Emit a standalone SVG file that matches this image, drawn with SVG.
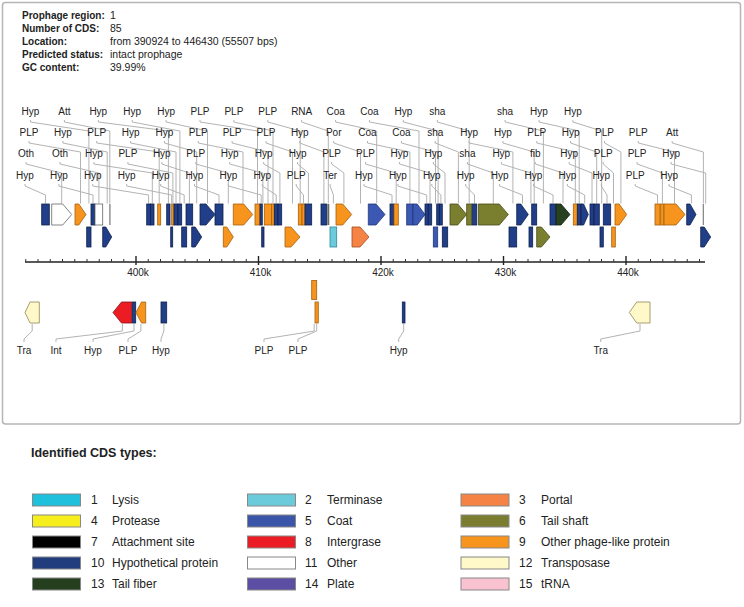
<svg xmlns="http://www.w3.org/2000/svg" width="744" height="607" viewBox="0 0 744 607">
<style>
text{font-family:"Liberation Sans",Arial,sans-serif;fill:#222}
.h{font-size:10.5px}
.hb{font-size:10px;font-weight:bold}
.t{font-size:10px;text-anchor:middle}
.ax{font-size:10px;text-anchor:middle}
.lg{font-size:12px}
.ln{fill:none;stroke:#b3b3b3;stroke-width:1}
.hyp{fill:#213f88;stroke:#0f214d;stroke-width:.8}
.coa{fill:#3b58b2;stroke:#22367a;stroke-width:.8}
.plp{fill:#f7941d;stroke:#a4600f;stroke-width:.8}
.oth{fill:#fff;stroke:#666;stroke-width:.8}
.sha{fill:#7a7f30;stroke:#474a18;stroke-width:.8}
.fib{fill:#27401f;stroke:#13230e;stroke-width:.8}
.ter{fill:#6ccbdb;stroke:#2f8898;stroke-width:.8}
.por{fill:#f58345;stroke:#a24a1f;stroke-width:.8}
.att{fill:#8a8a8a}
.rna{fill:#6a6a6a}
.tra{fill:#fff8c8;stroke:#8f8656;stroke-width:.8}
.int{fill:#ec1c24;stroke:#8a1015;stroke-width:.8}
.sw{stroke:#888;stroke-width:1}
</style>
<rect x="2.5" y="2.5" width="738" height="421.5" rx="3" fill="#fff" stroke="#b5b5b5" stroke-width="1.5"/>
<g id="header">
<text class="hb" x="22" y="18.8">Prophage region:</text><text class="h" x="110" y="18.8">1</text>
<text class="hb" x="22" y="31.8">Number of CDS:</text><text class="h" x="110" y="31.8">85</text>
<text class="hb" x="22" y="44.8">Location:</text><text class="h" x="110" y="44.8">from 390924 to 446430 (55507 bps)</text>
<text class="hb" x="22" y="57.8">Predicted status:</text><text class="h" x="110" y="57.8">intact prophage</text>
<text class="hb" x="22" y="70.8">GC content:</text><text class="h" x="110" y="70.8">39.99%</text>
</g>
<g id="axis">
<line x1="25" y1="262" x2="705" y2="262" stroke="#222" stroke-width="1.6"/>
<path fill="none" stroke="#333" stroke-width="1" d="M25.75 259V262M38 259V262M50.25 259V262M62.5 259V262M74.75 259V262M87 259V262M99.25 259V262M111.5 259V262M123.75 259V262M148.25 259V262M160.5 259V262M172.75 259V262M185 259V262M197.25 259V262M209.5 259V262M221.75 259V262M234 259V262M246.25 259V262M270.75 259V262M283 259V262M295.25 259V262M307.5 259V262M319.75 259V262M332 259V262M344.25 259V262M356.5 259V262M368.75 259V262M393.25 259V262M405.5 259V262M417.75 259V262M430 259V262M442.25 259V262M454.5 259V262M466.75 259V262M479 259V262M491.25 259V262M515.75 259V262M528 259V262M540.25 259V262M552.5 259V262M564.75 259V262M577 259V262M589.25 259V262M601.5 259V262M613.75 259V262M638.25 259V262M650.5 259V262M662.75 259V262M675 259V262M687.25 259V262M699.5 259V262"/>
<path fill="none" stroke="#222" stroke-width="1.4" d="M136 256V265M258.5 256V265M381 256V265M503.5 256V265M626 256V265"/>
<text class="ax" x="138" y="276">400k</text>
<text class="ax" x="260.5" y="276">410k</text>
<text class="ax" x="383" y="276">420k</text>
<text class="ax" x="505.5" y="276">430k</text>
<text class="ax" x="628" y="276">440k</text>
</g>
<g id="connectors">
<path class="ln" d="M25 184V186L45.5 195V203.5"/>
<path class="ln" d="M26 162V164L61.7 173V203.5"/>
<path class="ln" d="M29 141V143L80.5 152V203.5"/>
<path class="ln" d="M30.5 120V122L88.9 131V203.5"/>
<path class="ln" d="M58.9 184V186L93 195V203.5"/>
<path class="ln" d="M60 162V164L98.9 173V203.5"/>
<path class="ln" d="M62.9 141V143L107.2 152V203.5"/>
<path class="ln" d="M64.4 120V122L109.8 131V203.5"/>
<path class="ln" d="M92.8 184V186L148.6 195V203.5"/>
<path class="ln" d="M93.9 162V164L152.3 173V203.5"/>
<path class="ln" d="M96.7 141V143L159.2 152V203.5"/>
<path class="ln" d="M98.3 120V122L168.4 131V203.5"/>
<path class="ln" d="M126.7 184V186L171.7 195V203.5"/>
<path class="ln" d="M127.9 162V164L172.9 173V203.5"/>
<path class="ln" d="M130.6 141V143L176 152V203.5"/>
<path class="ln" d="M132.2 120V122L179.9 131V203.5"/>
<path class="ln" d="M160.6 184V186L184.2 195V203.5"/>
<path class="ln" d="M161.8 162V164L189.4 173V203.5"/>
<path class="ln" d="M164.4 141V143L196.7 152V203.5"/>
<path class="ln" d="M166.1 120V122L207.5 131V203.5"/>
<path class="ln" d="M194.5 184V186L219 195V203.5"/>
<path class="ln" d="M195.8 162V164L228.3 173V203.5"/>
<path class="ln" d="M198.3 141V143L243 152V203.5"/>
<path class="ln" d="M200 120V122L257.5 131V203.5"/>
<path class="ln" d="M228.4 184V186L261.2 195V203.5"/>
<path class="ln" d="M229.7 162V164L262.9 173V203.5"/>
<path class="ln" d="M232.1 141V143L268 152V203.5"/>
<path class="ln" d="M233.9 120V122L273 131V203.5"/>
<path class="ln" d="M262.3 184V186L276.2 195V203.5"/>
<path class="ln" d="M263.7 162V164L279.9 173V203.5"/>
<path class="ln" d="M266 141V143L292.5 152V203.5"/>
<path class="ln" d="M267.8 120V122L300.2 131V203.5"/>
<path class="ln" d="M296.2 184V186L303.5 195V203.5"/>
<path class="ln" d="M297.6 162V164L308.4 173V203.5"/>
<path class="ln" d="M299.8 141V143L323.9 152V203.5"/>
<path class="ln" d="M301.7 120V122L328.3 131V203.5"/>
<path class="ln" d="M330.1 184V186L333.4 195V203.5"/>
<path class="ln" d="M331.6 162V164L343.9 173V203.5"/>
<path class="ln" d="M333.7 141V143L360.5 152V203.5"/>
<path class="ln" d="M335.6 120V122L376.7 131V203.5"/>
<path class="ln" d="M364 184V186L392 195V203.5"/>
<path class="ln" d="M365.5 162V164L396.2 173V203.5"/>
<path class="ln" d="M367.5 141V143L409.9 152V203.5"/>
<path class="ln" d="M369.5 120V122L419 131V203.5"/>
<path class="ln" d="M397.9 184V186L426.7 195V203.5"/>
<path class="ln" d="M399.5 162V164L430 173V203.5"/>
<path class="ln" d="M401.4 141V143L435.5 152V203.5"/>
<path class="ln" d="M403.4 120V122L438.1 131V203.5"/>
<path class="ln" d="M431.8 184V186L440.9 195V203.5"/>
<path class="ln" d="M433.4 162V164L445 173V203.5"/>
<path class="ln" d="M435.2 141V143L458.4 152V203.5"/>
<path class="ln" d="M437.3 120V122L469.2 131V203.5"/>
<path class="ln" d="M465.7 184V186L474.5 195V203.5"/>
<path class="ln" d="M467.4 162V164L493.3 173V203.5"/>
<path class="ln" d="M469.1 141V143L512.9 152V203.5"/>
<path class="ln" d="M499.6 184V186L522.5 195V203.5"/>
<path class="ln" d="M501.3 162V164L530.9 173V203.5"/>
<path class="ln" d="M502.9 141V143L534.2 152V203.5"/>
<path class="ln" d="M505.1 120V122L543.4 131V203.5"/>
<path class="ln" d="M533.5 184V186L553 195V203.5"/>
<path class="ln" d="M535.3 162V164L563 173V203.5"/>
<path class="ln" d="M536.8 141V143L575.3 152V203.5"/>
<path class="ln" d="M539 120V122L579.2 131V203.5"/>
<path class="ln" d="M567.4 184V186L584.7 195V203.5"/>
<path class="ln" d="M569.2 162V164L592 173V203.5"/>
<path class="ln" d="M570.6 141V143L596.7 152V203.5"/>
<path class="ln" d="M572.9 120V122L601.7 131V203.5"/>
<path class="ln" d="M601.3 184V186L607 195V203.5"/>
<path class="ln" d="M603.2 162V164L613.5 173V203.5"/>
<path class="ln" d="M604.5 141V143L620.9 152V203.5"/>
<path class="ln" d="M635.2 184V186L657.5 195V203.5"/>
<path class="ln" d="M637.1 162V164L662.4 173V203.5"/>
<path class="ln" d="M638.3 141V143L674.5 152V203.5"/>
<path class="ln" d="M669.1 184V186L691.4 195V203.5"/>
<path class="ln" d="M671.1 162V164L705.7 173V203.5"/>
<path class="ln" d="M672.2 141V143L703.4 152V203.5"/>
<path class="ln" d="M32.2 324V331L24 339V342"/>
<path class="ln" d="M122.4 324V331L56 339V342"/>
<path class="ln" d="M134 324V331L93 339V342"/>
<path class="ln" d="M140.9 324V331L128 339V342"/>
<path class="ln" d="M163.9 324V331L161 339V342"/>
<path class="ln" d="M314.2 324V331L264 339V342"/>
<path class="ln" d="M316.7 324V331L298 339V342"/>
<path class="ln" d="M403.7 324V331L398.7 339V342"/>
<path class="ln" d="M640 324V331L600.7 339V342"/>
</g>
<g id="genes">
<g id="g1"><rect class="hyp" x="41.7" y="204" width="7.6" height="21"/><text class="t" x="25" y="178.5">Hyp</text></g>
<g id="g2"><polygon class="oth" points="51.7,204 62.7,204 71.7,214.5 62.7,225 51.7,225"/><text class="t" x="26" y="156.5">Oth</text></g>
<g id="g3"><polygon class="plp" points="75,204 78.8,204 86,214.5 78.8,225 75,225"/><text class="t" x="29" y="135.5">PLP</text></g>
<g id="g4"><rect class="hyp" x="86.7" y="227" width="4.3" height="20"/><text class="t" x="30.5" y="114.5">Hyp</text></g>
<g id="g5"><rect class="hyp" x="91" y="204" width="4" height="21"/><text class="t" x="58.9" y="178.5">Hyp</text></g>
<g id="g6"><rect class="oth" x="95" y="204" width="7.7" height="21"/><text class="t" x="60" y="156.5">Oth</text></g>
<g id="g7"><polygon class="hyp" points="102.7,227 105.8,227 111.7,237 105.8,247 102.7,247"/><text class="t" x="62.9" y="135.5">Hyp</text></g>
<g id="g8"><rect class="att" x="109.2" y="204" width="1.4" height="21"/><text class="t" x="64.4" y="114.5">Att</text></g>
<g id="g9"><rect class="hyp" x="146.7" y="204" width="3.8" height="21"/><text class="t" x="92.8" y="178.5">Hyp</text></g>
<g id="g10"><rect class="hyp" x="150.5" y="204" width="3.5" height="21"/><text class="t" x="93.9" y="156.5">Hyp</text></g>
<g id="g11"><rect class="plp" x="157.7" y="204" width="3" height="21"/><text class="t" x="96.7" y="135.5">PLP</text></g>
<g id="g12"><rect class="hyp" x="166.7" y="204" width="3.3" height="21"/><text class="t" x="98.3" y="114.5">Hyp</text></g>
<g id="g13"><rect class="hyp" x="170.7" y="227" width="2" height="20"/><text class="t" x="126.7" y="178.5">Hyp</text></g>
<g id="g14"><rect class="plp" x="171.7" y="204" width="2.3" height="21"/><text class="t" x="127.9" y="156.5">PLP</text></g>
<g id="g15"><rect class="hyp" x="174" y="204" width="4" height="21"/><text class="t" x="130.6" y="135.5">Hyp</text></g>
<g id="g16"><rect class="hyp" x="178" y="204" width="3.7" height="21"/><text class="t" x="132.2" y="114.5">Hyp</text></g>
<g id="g17"><rect class="hyp" x="181.7" y="227" width="5" height="20"/><text class="t" x="160.6" y="178.5">Hyp</text></g>
<g id="g18"><rect class="hyp" x="186" y="204" width="6.7" height="21"/><text class="t" x="161.8" y="156.5">Hyp</text></g>
<g id="g19"><polygon class="hyp" points="191.7,227 195.2,227 201.7,237 195.2,247 191.7,247"/><text class="t" x="164.4" y="135.5">Hyp</text></g>
<g id="g20"><polygon class="hyp" points="200,204 206,204 215,214.5 206,225 200,225"/><text class="t" x="166.1" y="114.5">Hyp</text></g>
<g id="g21"><rect class="hyp" x="215" y="204" width="8" height="21"/><text class="t" x="194.5" y="178.5">Hyp</text></g>
<g id="g22"><polygon class="plp" points="223.3,227 226.8,227 233.3,237 226.8,247 223.3,247"/><text class="t" x="195.8" y="156.5">PLP</text></g>
<g id="g23"><polygon class="plp" points="233.3,204 243.7,204 252.7,214.5 243.7,225 233.3,225"/><text class="t" x="198.3" y="135.5">PLP</text></g>
<g id="g24"><rect class="plp" x="255" y="204" width="5" height="21"/><text class="t" x="200" y="114.5">PLP</text></g>
<g id="g25"><rect class="hyp" x="260" y="204" width="2.3" height="21"/><text class="t" x="228.4" y="178.5">Hyp</text></g>
<g id="g26"><rect class="hyp" x="261.7" y="227" width="2.3" height="20"/><text class="t" x="229.7" y="156.5">Hyp</text></g>
<g id="g27"><rect class="plp" x="264.3" y="204" width="7.4" height="21"/><text class="t" x="232.1" y="135.5">PLP</text></g>
<g id="g28"><rect class="plp" x="271.7" y="204" width="2.6" height="21"/><text class="t" x="233.9" y="114.5">PLP</text></g>
<g id="g29"><rect class="hyp" x="274.3" y="204" width="3.7" height="21"/><text class="t" x="262.3" y="178.5">Hyp</text></g>
<g id="g30"><rect class="hyp" x="278" y="204" width="3.7" height="21"/><text class="t" x="263.7" y="156.5">Hyp</text></g>
<g id="g31"><polygon class="plp" points="285,227 291,227 300,237 291,247 285,247"/><text class="t" x="266" y="135.5">PLP</text></g>
<g id="g32"><rect class="plp" x="298.3" y="204" width="3.7" height="21"/><text class="t" x="267.8" y="114.5">PLP</text></g>
<g id="g33"><rect class="plp" x="302" y="204" width="3" height="21"/><text class="t" x="296.2" y="178.5">PLP</text></g>
<g id="g34"><rect class="hyp" x="305" y="204" width="6.7" height="21"/><text class="t" x="297.6" y="156.5">Hyp</text></g>
<g id="g35"><rect class="hyp" x="321" y="204" width="5.7" height="21"/><text class="t" x="299.8" y="135.5">Hyp</text></g>
<g id="g36"><rect class="rna" x="327.3" y="204" width="2" height="21"/><text class="t" x="301.7" y="114.5">RNA</text></g>
<g id="g37"><rect class="ter" x="330" y="227" width="6.7" height="20"/><text class="t" x="330.1" y="178.5">Ter</text></g>
<g id="g38"><polygon class="plp" points="336,204 342.7,204 351.7,214.5 342.7,225 336,225"/><text class="t" x="331.6" y="156.5">PLP</text></g>
<g id="g39"><polygon class="por" points="352,227 360,227 369,237 360,247 352,247"/><text class="t" x="333.7" y="135.5">Por</text></g>
<g id="g40"><polygon class="coa" points="368.3,204 376,204 385,214.5 376,225 368.3,225"/><text class="t" x="335.6" y="114.5">Coa</text></g>
<g id="g41"><rect class="hyp" x="390" y="204" width="4" height="21"/><text class="t" x="364" y="178.5">Hyp</text></g>
<g id="g42"><rect class="plp" x="394" y="204" width="4.3" height="21"/><text class="t" x="365.5" y="156.5">PLP</text></g>
<g id="g43"><rect class="coa" x="406.7" y="204" width="6.3" height="21"/><text class="t" x="367.5" y="135.5">Coa</text></g>
<g id="g44"><polygon class="coa" points="413,204 417.2,204 425,214.5 417.2,225 413,225"/><text class="t" x="369.5" y="114.5">Coa</text></g>
<g id="g45"><rect class="hyp" x="425" y="204" width="3.3" height="21"/><text class="t" x="397.9" y="178.5">Hyp</text></g>
<g id="g46"><rect class="hyp" x="428.3" y="204" width="3.4" height="21"/><text class="t" x="399.5" y="156.5">Hyp</text></g>
<g id="g47"><rect class="coa" x="433.3" y="227" width="4.4" height="20"/><text class="t" x="401.4" y="135.5">Coa</text></g>
<g id="g48"><rect class="hyp" x="436.7" y="204" width="2.8" height="21"/><text class="t" x="403.4" y="114.5">Hyp</text></g>
<g id="g49"><rect class="hyp" x="439.5" y="204" width="2.8" height="21"/><text class="t" x="431.8" y="178.5">Hyp</text></g>
<g id="g50"><rect class="hyp" x="442.3" y="227" width="5.4" height="20"/><text class="t" x="433.4" y="156.5">Hyp</text></g>
<g id="g51"><polygon class="sha" points="450,204 457.7,204 466.7,214.5 457.7,225 450,225"/><text class="t" x="435.2" y="135.5">sha</text></g>
<g id="g52"><rect class="sha" x="466.7" y="204" width="5" height="21"/><text class="t" x="437.3" y="114.5">sha</text></g>
<g id="g53"><rect class="hyp" x="472.3" y="204" width="4.4" height="21"/><text class="t" x="465.7" y="178.5">Hyp</text></g>
<g id="g54"><polygon class="sha" points="478.3,204 499.3,204 508.3,214.5 499.3,225 478.3,225"/><text class="t" x="467.4" y="156.5">sha</text></g>
<g id="g55"><rect class="hyp" x="509" y="227" width="7.7" height="20"/><text class="t" x="469.1" y="135.5">Hyp</text></g>
<g id="g56"><polygon class="hyp" points="516.7,204 520.8,204 528.3,214.5 520.8,225 516.7,225"/><text class="t" x="499.6" y="178.5">Hyp</text></g>
<g id="g57"><rect class="hyp" x="529" y="227" width="3.7" height="20"/><text class="t" x="501.3" y="156.5">Hyp</text></g>
<g id="g58"><rect class="hyp" x="531.7" y="204" width="5" height="21"/><text class="t" x="502.9" y="135.5">Hyp</text></g>
<g id="g59"><polygon class="sha" points="536.7,227 541.4,227 550,237 541.4,247 536.7,247"/><text class="t" x="505.1" y="114.5">sha</text></g>
<g id="g60"><rect class="hyp" x="550" y="204" width="6" height="21"/><text class="t" x="533.5" y="178.5">Hyp</text></g>
<g id="g61"><polygon class="fib" points="556,204 561,204 570,214.5 561,225 556,225"/><text class="t" x="535.3" y="156.5">fib</text></g>
<g id="g62"><rect class="plp" x="573.3" y="204" width="4" height="21"/><text class="t" x="536.8" y="135.5">PLP</text></g>
<g id="g63"><rect class="hyp" x="577.3" y="204" width="3.7" height="21"/><text class="t" x="539" y="114.5">Hyp</text></g>
<g id="g64"><polygon class="hyp" points="581,204 583.6,204 588.3,214.5 583.6,225 581,225"/><text class="t" x="567.4" y="178.5">Hyp</text></g>
<g id="g65"><rect class="hyp" x="590" y="204" width="4" height="21"/><text class="t" x="569.2" y="156.5">Hyp</text></g>
<g id="g66"><rect class="hyp" x="594" y="204" width="5.3" height="21"/><text class="t" x="570.6" y="135.5">Hyp</text></g>
<g id="g67"><rect class="hyp" x="600" y="227" width="3.3" height="20"/><text class="t" x="572.9" y="114.5">Hyp</text></g>
<g id="g68"><rect class="hyp" x="603.3" y="204" width="7.4" height="21"/><text class="t" x="601.3" y="178.5">Hyp</text></g>
<g id="g69"><rect class="plp" x="611.7" y="227" width="3.6" height="20"/><text class="t" x="603.2" y="156.5">PLP</text></g>
<g id="g70"><polygon class="plp" points="615,204 619.1,204 626.7,214.5 619.1,225 615,225"/><text class="t" x="604.5" y="135.5">PLP</text></g>
<g id="g71"><rect class="plp" x="655" y="204" width="5" height="21"/><text class="t" x="635.2" y="178.5">PLP</text></g>
<g id="g72"><rect class="plp" x="660.7" y="204" width="3.3" height="21"/><text class="t" x="637.1" y="156.5">PLP</text></g>
<g id="g73"><polygon class="plp" points="664,204 676,204 685,214.5 676,225 664,225"/><text class="t" x="638.3" y="135.5">PLP</text></g>
<g id="g74"><polygon class="hyp" points="686.7,204 690,204 696,214.5 690,225 686.7,225"/><text class="t" x="669.1" y="178.5">Hyp</text></g>
<g id="g75"><polygon class="hyp" points="700.7,227 704.2,227 710.7,237 704.2,247 700.7,247"/><text class="t" x="671.1" y="156.5">Hyp</text></g>
<g id="g76"><rect class="att" x="702.7" y="204" width="1.3" height="21"/><text class="t" x="672.2" y="135.5">Att</text></g>
<g id="g77"><polygon class="tra" points="25,312.5 30,302 39.3,302 39.3,323 30,323"/><text class="t" x="24" y="353.5">Tra</text></g>
<g id="g78"><polygon class="int" points="113,312.5 121.5,302 131.7,302 131.7,323 121.5,323"/><text class="t" x="56" y="353.5">Int</text></g>
<g id="g79"><rect class="hyp" x="132.3" y="302" width="3.4" height="21"/><text class="t" x="93" y="353.5">Hyp</text></g>
<g id="g80"><polygon class="plp" points="136,312.5 141.5,302 145.7,302 145.7,323 141.5,323"/><text class="t" x="128" y="353.5">PLP</text></g>
<g id="g81"><rect class="hyp" x="161" y="302" width="5.7" height="21"/><text class="t" x="161" y="353.5">Hyp</text></g>
<g id="g82"><rect class="plp" x="311.7" y="280.5" width="5" height="19"/><text class="t" x="264" y="353.5">PLP</text></g>
<g id="g83"><rect class="plp" x="315" y="302" width="3.3" height="21"/><text class="t" x="298" y="353.5">PLP</text></g>
<g id="g84"><rect class="hyp" x="402.3" y="302" width="2.7" height="21"/><text class="t" x="398.7" y="353.5">Hyp</text></g>
<g id="g85"><polygon class="tra" points="629.3,312.5 636.7,302 650,302 650,323 636.7,323"/><text class="t" x="600.7" y="353.5">Tra</text></g>
</g>
<g id="legend">
<text x="31" y="456.5" style="font-size:12.5px;font-weight:bold">Identified CDS types:</text>
<rect class="sw" x="32.5" y="494" width="48" height="12" fill="#1ec0dc"/><text class="lg" x="91" y="504.3">1</text><text class="lg" x="112" y="504.3">Lysis</text>
<rect class="sw" x="247.5" y="494" width="48" height="12" fill="#6ccbdb"/><text class="lg" x="305" y="504.3">2</text><text class="lg" x="327" y="504.3">Terminase</text>
<rect class="sw" x="461" y="494" width="48" height="12" fill="#f58345"/><text class="lg" x="519" y="504.3">3</text><text class="lg" x="541" y="504.3">Portal</text>
<rect class="sw" x="32.5" y="515" width="48" height="12" fill="#f7ee1e"/><text class="lg" x="91" y="525.3">4</text><text class="lg" x="112" y="525.3">Protease</text>
<rect class="sw" x="247.5" y="515" width="48" height="12" fill="#3b55a8"/><text class="lg" x="305" y="525.3">5</text><text class="lg" x="327" y="525.3">Coat</text>
<rect class="sw" x="461" y="515" width="48" height="12" fill="#7a7c30"/><text class="lg" x="519" y="525.3">6</text><text class="lg" x="541" y="525.3">Tail shaft</text>
<rect class="sw" x="32.5" y="536" width="48" height="12" fill="#000"/><text class="lg" x="91" y="546.3">7</text><text class="lg" x="112" y="546.3">Attachment site</text>
<rect class="sw" x="247.5" y="536" width="48" height="12" fill="#ec1c24"/><text class="lg" x="305" y="546.3">8</text><text class="lg" x="327" y="546.3">Intergrase</text>
<rect class="sw" x="461" y="536" width="48" height="12" fill="#f7941d"/><text class="lg" x="519" y="546.3">9</text><text class="lg" x="541" y="546.3">Other phage-like protein</text>
<rect class="sw" x="32.5" y="557" width="48" height="12" fill="#213d7e"/><text class="lg" x="91" y="567.3">10</text><text class="lg" x="112" y="567.3">Hypothetical protein</text>
<rect class="sw" x="247.5" y="557" width="48" height="12" fill="#fff"/><text class="lg" x="305" y="567.3">11</text><text class="lg" x="327" y="567.3">Other</text>
<rect class="sw" x="461" y="557" width="48" height="12" fill="#fff8c8"/><text class="lg" x="519" y="567.3">12</text><text class="lg" x="541" y="567.3">Transposase</text>
<rect class="sw" x="32.5" y="578" width="48" height="12" fill="#253f1e"/><text class="lg" x="91" y="588.3">13</text><text class="lg" x="112" y="588.3">Tail fiber</text>
<rect class="sw" x="247.5" y="578" width="48" height="12" fill="#5c4ea2"/><text class="lg" x="305" y="588.3">14</text><text class="lg" x="327" y="588.3">Plate</text>
<rect class="sw" x="461" y="578" width="48" height="12" fill="#f9c2d0"/><text class="lg" x="519" y="588.3">15</text><text class="lg" x="541" y="588.3">tRNA</text>
</g>
</svg>
